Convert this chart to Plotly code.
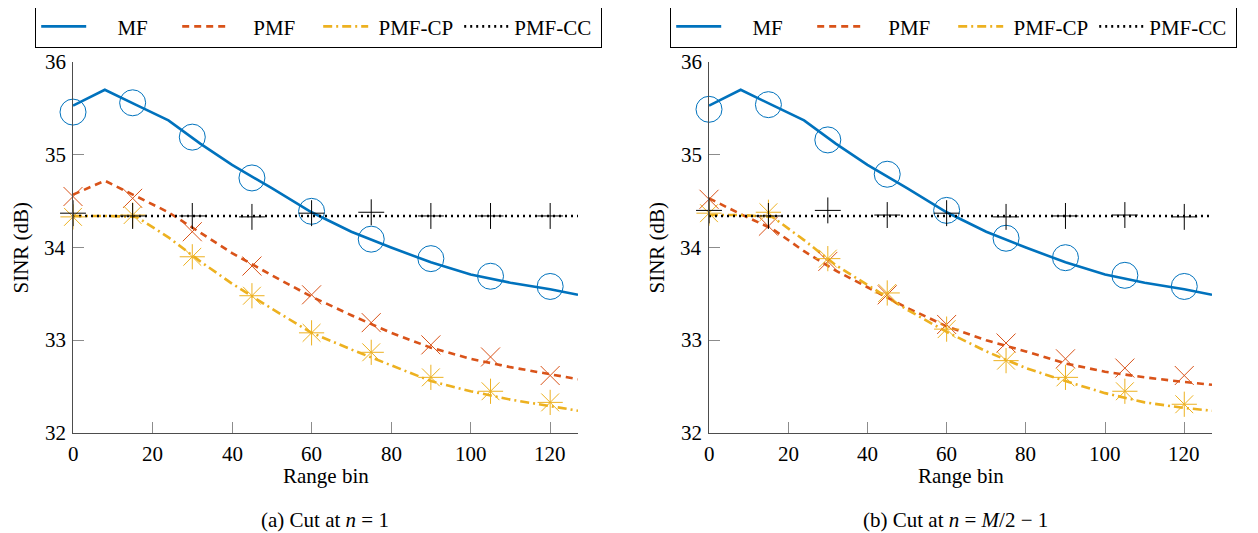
import plotly.graph_objects as go

OFF = 8  # browser body margin
W, H = 1258 - OFF, 533 - OFF
FONT = "Liberation Serif"
FS = 21

# ---------------- data ----------------
line_x = [0, 8, 16, 24, 32, 40, 50, 60, 70, 80, 90, 100, 110, 120, 127]
marker_x = [0, 15, 30, 45, 60, 75, 90, 105, 120]

# panel (a)
a_mf_line = [35.53, 35.70, 35.535, 35.37, 35.12, 34.89, 34.64, 34.38, 34.17, 34.00, 33.84, 33.71, 33.62, 33.55, 33.49]
a_pmf_line = [34.57, 34.72, 34.55, 34.38, 34.16, 33.94, 33.70, 33.47, 33.27, 33.08, 32.92, 32.80, 32.71, 32.63, 32.58]
a_cp_line = [34.34, 34.34, 34.33, 34.11, 33.85, 33.61, 33.34, 33.08, 32.90, 32.73, 32.56, 32.45, 32.36, 32.29, 32.24]
a_cc_line = [34.34] * len(line_x)

a_mf_mk = [35.46, 35.56, 35.19, 34.75, 34.39, 34.09, 33.88, 33.69, 33.58]
a_pmf_mk = [34.55, 34.53, 34.17, 33.80, 33.49, 33.19, 32.95, 32.82, 32.62]
a_cp_mk = [34.33, 34.35, 33.90, 33.48, 33.08, 32.87, 32.60, 32.45, 32.33]
a_cc_mk = [34.37, 34.34, 34.34, 34.33, 34.37, 34.38, 34.34, 34.34, 34.34]

# panel (b)
b_mf_line = [35.53, 35.70, 35.535, 35.37, 35.12, 34.89, 34.64, 34.38, 34.17, 34.00, 33.84, 33.71, 33.62, 33.55, 33.49]
b_pmf_line = [34.53, 34.36, 34.20, 33.96, 33.75, 33.57, 33.35, 33.15, 33.00, 32.88, 32.75, 32.66, 32.60, 32.55, 32.52]
b_cp_line = [34.35, 34.35, 34.33, 34.08, 33.81, 33.60, 33.33, 33.09, 32.88, 32.70, 32.56, 32.43, 32.33, 32.27, 32.24]
b_cc_line = [34.34] * len(line_x)

b_mf_mk = [35.49, 35.54, 35.16, 34.79, 34.40, 34.10, 33.89, 33.70, 33.58]
b_pmf_mk = [34.52, 34.23, 33.85, 33.49, 33.17, 32.97, 32.80, 32.70, 32.62]
b_cp_mk = [34.37, 34.38, 33.88, 33.51, 33.12, 32.78, 32.60, 32.45, 32.31]
b_cc_mk = [34.40, 34.34, 34.40, 34.35, 34.37, 34.33, 34.34, 34.35, 34.33]

names = ["MF", "PMF", "PMF-CP", "PMF-CC"]
# leading no-break spaces centre the short names in their legend columns
name_pad = [5, 4, 1, 0]
colors = ["#0072BD", "#D95319", "#EDB120", "#000000"]
dashes = ["solid", "7px,5px", "9px,4px,2px,4px", "2px,4px"]
symbols = ["circle-open", "x-thin-open", "asterisk-open", "cross-thin-open"]
sizes = [26, 19, 21, 18.5]

x_ticks = [0, 20, 40, 60, 80, 100, 120]
y_ticks = [32, 33, 34, 35, 36]
x_title = "Range bin"
y_title = "SINR (dB)"
captions = ["(a) Cut at <i>n</i> = 1", "(b) Cut at <i>n</i> = <i>M</i>/2 − 1"]

panels = [
    ("x", "y", "legend", [a_mf_line, a_pmf_line, a_cp_line, a_cc_line], [a_mf_mk, a_pmf_mk, a_cp_mk, a_cc_mk]),
    ("x2", "y2", "legend2", [b_mf_line, b_pmf_line, b_cp_line, b_cc_line], [b_mf_mk, b_pmf_mk, b_cp_mk, b_cc_mk]),
]

fig = go.Figure()
for xa, ya, lg, lines, mks in panels:
    for i in range(4):
        fig.add_trace(go.Scatter(
            x=line_x, y=lines[i], mode="lines", name="\u00a0" * name_pad[i] + names[i],
            line=dict(color=colors[i], width=2.6, dash=dashes[i]),
            xaxis=xa, yaxis=ya, legend=lg, showlegend=True,
        ))
    for i in range(4):
        fig.add_trace(go.Scatter(
            x=marker_x, y=mks[i], mode="markers", showlegend=False,
            marker=dict(symbol=symbols[i], size=sizes[i], color=colors[i],
                        line=dict(color=colors[i], width=1)),
            cliponaxis=False, xaxis=xa, yaxis=ya,
        ))

# ---------------- layout ----------------
def px_x(p):
    return (p - OFF) / W

def px_y(p):
    return 1 - (p - OFF) / H

axis_common = dict(
    showgrid=False, zeroline=False, showline=True, linecolor="#4d4d4d", linewidth=1.4,
    ticks="inside", ticklen=11, tickwidth=1, tickcolor="#8c8c8c", automargin=False,
    showticklabels=False, mirror=False,
)

xdoms = [[px_x(73), px_x(578)], [px_x(709), px_x(1212)]]
ydom = [px_y(433), px_y(62)]

legend_common = dict(
    yanchor="top", xanchor="left", orientation="h",
    bordercolor="black", borderwidth=1.2, bgcolor="white",
    entrywidth=81, entrywidthmode="pixels", itemwidth=45,
    font=dict(family=FONT, size=FS, color="black"),
)

txt_font = dict(family=FONT, size=FS, color="black")
annotations = []
ytitle_x = [px_x(20), px_x(656)]
caption_x = [px_x(325), px_x(955)]
for k, (xa, ya) in enumerate([("x", "y"), ("x2", "y2")]):
    xd = xdoms[k]
    # tick labels positioned by the axes' own scales
    for t in x_ticks:
        annotations.append(dict(text=str(t), xref=xa, x=t, yref="paper", y=ydom[0],
                                xanchor="center", yanchor="top", yshift=-7,
                                showarrow=False, font=txt_font))
    for t in y_ticks:
        annotations.append(dict(text=str(t), xref="paper", x=xd[0], yref=ya, y=t,
                                xanchor="right", yanchor="middle", xshift=-5,
                                showarrow=False, font=txt_font))
    # axis titles
    annotations.append(dict(text=x_title, xref="paper", x=(xd[0] + xd[1]) / 2, yref="paper", y=px_y(476),
                            xanchor="center", yanchor="middle", showarrow=False, font=txt_font))
    annotations.append(dict(text=y_title, xref="paper", x=ytitle_x[k], yref="paper", y=(ydom[0] + ydom[1]) / 2,
                            xanchor="center", yanchor="middle", textangle=-90, showarrow=False, font=txt_font))
    # sub-captions
    annotations.append(dict(text=captions[k], xref="paper", x=caption_x[k], yref="paper", y=px_y(520),
                            xanchor="center", yanchor="middle", showarrow=False, font=txt_font))

fig.update_layout(
    template="none",
    width=W, height=H, margin=dict(l=0, r=0, t=0, b=0, autoexpand=False),
    paper_bgcolor="white", plot_bgcolor="white",
    font=dict(family=FONT, size=FS, color="black"),
    xaxis=dict(domain=xdoms[0], range=[0, 127], tickvals=x_ticks, anchor="y", **axis_common),
    yaxis=dict(domain=ydom, range=[32, 36], tickvals=y_ticks, anchor="x", **axis_common),
    xaxis2=dict(domain=xdoms[1], range=[0, 127], tickvals=x_ticks, anchor="y2", **axis_common),
    yaxis2=dict(domain=ydom, range=[32, 36], tickvals=y_ticks, anchor="x2", **axis_common),
    legend=dict(x=px_x(35), y=px_y(5), **legend_common),
    legend2=dict(x=px_x(670), y=px_y(5), **legend_common),
    annotations=annotations,
)

fig.write_html("out.html")
